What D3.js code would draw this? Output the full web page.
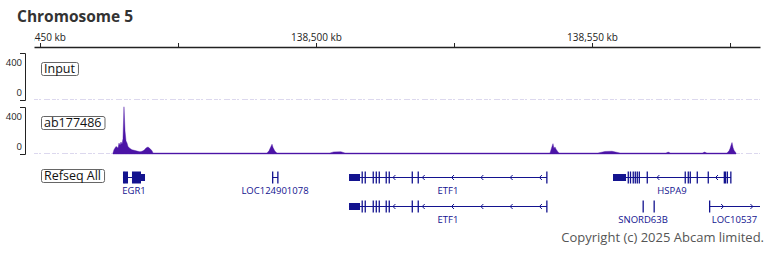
<!DOCTYPE html>
<html>
<head>
<meta charset="utf-8">
<script src="https://cdn.jsdelivr.net/npm/d3@7"></script>
<style>
  body { margin: 0; background: #fff; }
  svg { display: block; font-family: "Open Sans", sans-serif; }
</style>
</head>
<body>
<div id="chart"></div>
<script>
// ---- data ----
var chromName = "Chromosome 5";
var viewRange = [138448.91, 138580.43];          // kb shown across the ruler
var tickValues = [138450, 138475, 138500, 138525, 138550, 138575];
var tickLabels = ["138,450 kb", "", "138,500 kb", "", "138,550 kb", ""];
var scaleMax = 400;

// signal tracks: [position kb, value]
var inputSignal = [];
var abSignal = [
  [138463.22, 0], [138463.40, 30], [138463.77, 60], [138464.13, 45], [138464.31, 90],
  [138464.49, 70], [138464.67, 100], [138464.85, 80], [138465.03, 130], [138465.21, 420],
  [138465.40, 200], [138465.58, 110], [138465.76, 90], [138465.94, 60], [138466.12, 50],
  [138466.30, 40], [138466.66, 30], [138467.03, 25], [138467.39, 20], [138467.75, 15],
  [138468.11, 12], [138468.48, 15], [138468.84, 25], [138469.20, 45], [138469.56, 55],
  [138469.92, 40], [138470.29, 20], [138470.47, 0],
  [138491.12, 0], [138491.48, 20], [138491.84, 60], [138492.03, 80], [138492.21, 50],
  [138492.57, 15], [138492.93, 0],
  [138502.53, 0], [138503.20, 10], [138504.50, 12], [138505.25, 0],
  [138542.39, 0], [138542.57, 30], [138542.75, 60], [138542.93, 85], [138543.11, 40],
  [138543.29, 55], [138543.48, 35], [138543.84, 10], [138544.02, 0],
  [138551.08, 0], [138552.35, 14], [138553.62, 16], [138555.07, 0],
  [138563.40, 0], [138563.80, 8], [138564.20, 0],
  [138570.00, 0], [138570.40, 8], [138570.80, 0],
  [138574.45, 0], [138574.82, 20], [138575.00, 40], [138575.18, 70], [138575.36, 95],
  [138575.54, 50], [138575.72, 25], [138576.08, 0]
];

// genes: exons as [start, end, kind]
var etf1Exons = [
  [138505.98, 138507.97, "utr"], [138508.25, 138508.40, "cds"], [138508.80, 138508.95, "cds"],
  [138510.25, 138510.40, "cds"], [138510.80, 138510.95, "cds"], [138511.34, 138511.49, "cds"],
  [138512.60, 138512.75, "cds"], [138513.15, 138513.30, "cds"], [138517.32, 138517.47, "cds"],
  [138518.40, 138518.55, "cds"], [138541.70, 138541.84, "cds"]
];
var genes = [
  { name: "EGR1", row: 0, start: 138465.03, end: 138469.02, strand: "+",
    exons: [[138465.03, 138465.12, "cds"], [138465.21, 138465.94, "cds"],
            [138466.66, 138468.29, "cds"], [138468.29, 138469.02, "utr"]] },
  { name: "LOC124901078", row: 0, start: 138492.03, end: 138493.11, strand: "+",
    exons: [[138492.03, 138492.15, "cds"], [138492.97, 138493.11, "cds"]] },
  { name: "ETF1", row: 0, start: 138505.98, end: 138541.84, strand: "-", exons: etf1Exons },
  { name: "ETF1", row: 1, start: 138505.98, end: 138541.84, strand: "-", exons: etf1Exons },
  { name: "HSPA9", row: 0, start: 138553.80, end: 138575.18, strand: "-",
    exons: [[138553.80, 138556.16, "utr"], [138556.45, 138556.60, "cds"], [138556.85, 138557.00, "cds"],
            [138557.35, 138557.50, "cds"], [138557.72, 138557.87, "cds"], [138558.08, 138558.23, "cds"],
            [138558.45, 138558.60, "cds"], [138559.89, 138560.04, "cds"], [138566.77, 138566.92, "cds"],
            [138567.32, 138567.47, "cds"], [138567.68, 138567.83, "cds"], [138568.95, 138569.10, "cds"],
            [138570.94, 138571.09, "cds"], [138573.85, 138574.30, "cds"], [138574.40, 138574.55, "cds"],
            [138575.03, 138575.18, "cds"]] },
  { name: "SNORD63B", row: 1, start: 138559.15, end: 138559.33, strand: "-", label: true,
    exons: [[138559.15, 138559.33, "cds"]] },
  { name: "SNORD63", row: 1, start: 138561.14, end: 138561.32, strand: "-", label: false,
    exons: [[138561.14, 138561.32, "cds"]] },
  { name: "LOC10537", row: 1, start: 138571.19, end: 138582.00, strand: "+",
    exons: [[138571.19, 138571.32, "cds"]] }
];
var copyright = "Copyright (c) 2025 Abcam limited.";

// ---- layout ----
var width = 768, height = 256;
var left = 34, right = 760;
var signalColor = "#4b14a6", geneColor = "#13138f";

var svg = d3.select("#chart").append("svg")
    .attr("width", width)
    .attr("height", height);

var defs = svg.append("defs");
defs.append("clipPath").attr("id", "clipAxis")
  .append("rect").attr("x", left).attr("y", 0).attr("width", width - left).attr("height", 60);
defs.append("clipPath").attr("id", "clipPlot")
  .append("rect").attr("x", left).attr("y", 0).attr("width", right - left).attr("height", height);

svg.append("text")
    .attr("x", 17).attr("y", 22)
    .attr("font-size", 15.5).attr("font-weight", "bold").attr("fill", "#333")
    .text(chromName);

var x = d3.scaleLinear().domain(viewRange).range([left, right]);

// ruler (clip on an untransformed parent so labels above the line survive)
var ruler = svg.append("g")
    .attr("clip-path", "url(#clipAxis)")
  .append("g")
    .attr("transform", "translate(0,47)")
    .call(d3.axisTop(x).tickValues(tickValues).tickSize(4).tickSizeOuter(0).tickPadding(2)
      .tickFormat(function(d, i) { return tickLabels[i]; }));
ruler.attr("font-family", "Open Sans, sans-serif").attr("font-size", 10);
ruler.select(".domain").attr("stroke", "#222").attr("stroke-width", 1.3);
ruler.selectAll(".tick line").attr("stroke", "#222");
ruler.selectAll(".tick text").attr("fill", "#222");

function labelBox(txt, y0) {
  var g = svg.append("g");
  var t = g.append("text").attr("x", 44).attr("y", y0 + 11).attr("font-size", 12.5).attr("fill", "#111").text(txt);
  var w = t.node().getComputedTextLength();
  g.insert("rect", "text")
    .attr("x", 41.5).attr("y", y0 + 0.5)
    .attr("width", Math.max(w + 6, 0)).attr("height", 13)
    .attr("rx", 2).attr("fill", "#fff").attr("stroke", "#666");
}

function drawTrack(name, data, top, bottom) {
  var y = d3.scaleLinear().domain([0, scaleMax]).range([bottom, top + 1]);

  // scale bracket
  svg.append("path")
    .attr("d", "M20," + (top - 0.5) + "H25.5V" + (bottom + 1.5) + "H20")
    .attr("fill", "none").attr("stroke", "#222");
  svg.append("text").attr("x", 22).attr("y", top + 12).attr("text-anchor", "end")
    .attr("font-size", 9.5).attr("fill", "#222").text(scaleMax);
  svg.append("text").attr("x", 22).attr("y", y(0) - 3).attr("text-anchor", "end")
    .attr("font-size", 9.5).attr("fill", "#222").text("0");

  var g = svg.append("g").attr("clip-path", "url(#clipPlot)");
  g.append("line")
    .attr("x1", x(viewRange[0])).attr("x2", x(viewRange[1]))
    .attr("y1", y(0) + 0.5).attr("y2", y(0) + 0.5)
    .attr("stroke", "#dcd8ee").attr("stroke-dasharray", "4,1,2,3,6,2");

  var area = d3.area()
    .x(function(d) { return x(d[0]); })
    .y0(y(0) + 1)
    .y1(function(d) { return y(d[1]); });
  if (data.length) {
    g.append("path").datum(data)
      .attr("d", area)
      .attr("fill", signalColor)
      .attr("stroke", signalColor).attr("stroke-width", 0.4);
  }
  labelBox(name, top + 8);
}

drawTrack("Input", inputSignal, 54, 99);
drawTrack("ab177486", abSignal, 108, 153);

// gene track
labelBox("Refseq All", 169);
var rowY = [177, 206];
var gg = svg.append("g").attr("clip-path", "url(#clipPlot)");

genes.forEach(function(gene) {
  var cy = rowY[gene.row];
  var x0 = x(gene.start), x1 = x(gene.end);
  var exPx = gene.exons.map(function(e) { return [x(e[0]), x(e[1])]; });

  if (gene.exons.length > 1 || x1 - x0 > 5) {
    gg.append("line").attr("x1", x0).attr("x2", x1)
      .attr("y1", cy + 0.5).attr("y2", cy + 0.5)
      .attr("stroke", geneColor).attr("stroke-width", 1);
  }

  // strand arrows along the intron line
  if (x1 - x0 > 25) {
    for (var xa = x0 + 14.6; xa < x1 - 3; xa += 29.3) {
      var hidden = exPx.some(function(e) { return xa > e[0] - 2 && xa < e[1] + 2; });
      if (hidden) continue;
      var dir = gene.strand === "-" ? 1 : -1;
      gg.append("path")
        .attr("d", "M" + (xa + 2.5 * dir) + "," + (cy - 2) + "L" + xa + "," + (cy + 0.5) + "L" + (xa + 2.5 * dir) + "," + (cy + 3))
        .attr("fill", "none").attr("stroke", geneColor).attr("stroke-width", 1);
    }
  }

  gene.exons.forEach(function(e) {
    var ex0 = x(e[0]), ex1 = x(e[1]);
    var w = Math.max(ex1 - ex0, 1.3);
    var h = e[2] === "utr" ? 7 : 12;
    gg.append("rect")
      .attr("x", ex0).attr("y", cy + 0.5 - h / 2)
      .attr("width", w).attr("height", h)
      .attr("fill", geneColor);
  });

  if (gene.label !== false) {
    var vx0 = Math.max(x0, left), vx1 = Math.min(x1, right);
    svg.append("text")
      .attr("x", (vx0 + vx1) / 2).attr("y", cy + 17)
      .attr("text-anchor", "middle")
      .attr("font-size", 9.5).attr("fill", geneColor)
      .text(gene.name);
  }
});

svg.append("text")
    .attr("x", 764).attr("y", 242)
    .attr("text-anchor", "end")
    .attr("font-size", 13).attr("fill", "#555")
    .text(copyright);
</script>
</body>
</html>
